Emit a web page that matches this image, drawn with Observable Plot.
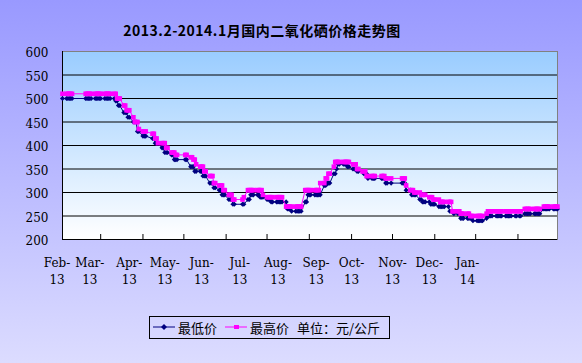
<!DOCTYPE html>
<html><head><meta charset="utf-8">
<script src="https://cdn.jsdelivr.net/npm/d3@7"></script>
<script src="https://cdn.jsdelivr.net/npm/@observablehq/plot@0.6"></script>
<style>
html,body{margin:0;padding:0;}
#chart{position:relative;width:582px;height:363px;overflow:hidden;background:linear-gradient(to bottom,#9999FF 0%,#DCDCFF 100%);}
#title{position:absolute;top:22px;left:262px;transform:translateX(-50%);white-space:nowrap;font:bold 14px "Noto Sans CJK SC";letter-spacing:0.5px;color:#000;line-height:16px;}
#plot{position:absolute;left:0;top:0;}
#legend{position:absolute;left:149px;top:316px;width:241px;height:23px;border:1px solid #000;box-sizing:border-box;font:13px "Noto Sans CJK SC";color:#000;}
#legend .it{position:absolute;top:0;height:21px;line-height:21px;white-space:nowrap;}
#legend svg{position:absolute;top:5px;}
</style></head><body>
<div id="chart"><div id="title"></div><div id="plot"></div><div id="legend"></div></div>
<script>
const titleText = "2013.2-2014.1月国内二氧化硒价格走势图";
const seriesNames = ["最低价", "最高价"];
const unitText = "单位：元/公斤";
const firstDay = "2013-02-01";
const lastDay = "2014-01-30";
const holidays = ["2013-02-11","2013-02-12","2013-02-13","2013-02-14","2013-02-15","2013-04-04","2013-04-05","2013-04-29","2013-04-30","2013-05-01","2013-06-10","2013-06-11","2013-06-12","2013-09-19","2013-09-20","2013-10-01","2013-10-02","2013-10-03","2013-10-04","2013-10-07","2014-01-01"];

const lowChangeDates = ["2013-02-01","2013-03-12","2013-03-14","2013-03-18","2013-03-21","2013-03-25","2013-03-28","2013-04-01","2013-04-08","2013-04-10","2013-04-15","2013-04-17","2013-04-22","2013-04-24","2013-05-06","2013-05-09","2013-05-15","2013-05-20","2013-05-23","2013-05-27","2013-05-29","2013-06-03","2013-06-06","2013-06-17","2013-06-19","2013-06-26","2013-07-01","2013-07-04","2013-07-16","2013-07-19","2013-07-29","2013-07-31","2013-08-12","2013-08-14","2013-08-19","2013-08-21","2013-08-22","2013-08-29","2013-09-02","2013-09-05","2013-09-10","2013-09-13","2013-09-26","2013-10-11","2013-10-15","2013-10-21","2013-10-23","2013-10-29","2013-11-04","2013-11-12","2013-11-15","2013-11-20","2013-11-29","2013-12-09","2013-12-10","2014-01-06","2014-01-20"];
const lowChangeValues = [500,495,485,470,460,450,430,420,415,405,395,385,380,370,355,345,335,320,310,305,295,285,275,285,295,290,285,280,265,260,280,295,315,320,340,350,360,355,350,345,340,330,320,305,295,285,280,275,270,260,255,245,240,245,250,255,265];

const highChangeDates = ["2013-02-01","2013-03-13","2013-03-18","2013-03-20","2013-03-25","2013-03-26","2013-03-29","2013-04-01","2013-04-08","2013-04-10","2013-04-12","2013-04-18","2013-04-22","2013-04-25","2013-05-06","2013-05-08","2013-05-10","2013-05-13","2013-05-16","2013-05-20","2013-05-23","2013-05-27","2013-05-30","2013-06-03","2013-06-06","2013-06-14","2013-06-17","2013-06-28","2013-07-01","2013-07-15","2013-07-29","2013-08-09","2013-08-13","2013-08-15","2013-08-19","2013-08-20","2013-09-02","2013-09-05","2013-09-09","2013-09-12","2013-09-26","2013-10-11","2013-10-14","2013-10-17","2013-10-22","2013-10-28","2013-10-31","2013-11-05","2013-11-14","2013-11-20","2013-11-27","2013-12-09","2013-12-10","2014-01-06","2014-01-20"];
const highChangeValues = [510,500,485,475,460,450,435,430,425,415,405,395,385,380,375,370,360,355,345,335,320,315,305,295,285,290,305,295,290,270,305,320,330,340,355,365,360,350,345,335,330,315,305,300,295,290,285,280,260,255,250,255,260,265,270];

const yTicks = [200,250,300,350,400,450,500,550,600];
const gridValues = [250,300,350,400,450,500,550];
const xTickLabels = ["Feb-\n13","Mar-\n13","Apr-\n13","May-\n13","Jun-\n13","Jul-\n13","Aug-\n13","Sep-\n13","Oct-\n13","Nov-\n13","Dec-\n13","Jan-\n14"];
const xLabelDates = ["2013-01-28","2013-02-21","2013-03-22","2013-04-17","2013-05-14","2013-06-11","2013-07-09","2013-08-06","2013-09-01","2013-10-01","2013-10-28","2013-11-25"];

const navy = "#000080", magenta = "#FF00FF";
const parse = d3.utcParse("%Y-%m-%d");
const fmt = d3.utcFormat("%Y-%m-%d");
const holidaySet = new Set(holidays);
const start = parse(firstDay), end = parse(lastDay);
const tradingDays = d3.utcDays(start, d3.utcDay.offset(end, 1))
  .filter(d => d.getUTCDay() % 6 !== 0 && !holidaySet.has(fmt(d)));
function stepSeries(dates, values) {
  const ch = dates.map(parse);
  return tradingDays.map(d => ({date: d, value: values[d3.bisectRight(ch, d) - 1]}));
}
const lowRows = stepSeries(lowChangeDates, lowChangeValues);
const highRows = stepSeries(highChangeDates, highChangeValues);
const monthStarts = d3.utcMonth.range(d3.utcMonth.ceil(d3.utcDay.offset(start, 1)), end);
const labelRows = xLabelDates.map((d, i) => ({date: parse(d), label: xTickLabels[i]}));

const plot = Plot.plot({
  width: 582, height: 363,
  marginTop: 51, marginRight: 25, marginBottom: 124, marginLeft: 62,
  style: {background: "transparent", fontFamily: "'DejaVu Serif', serif", fontSize: "12px", color: "#000", overflow: "visible"},
  x: {type: "utc", domain: [start, end]},
  y: {domain: [200, 600]},
  marks: [
    Plot.gridY(gridValues, {stroke: "#000", strokeOpacity: 1}),
    Plot.frame({stroke: "#808080"}),
    Plot.ruleY([200], {stroke: "#000"}),
    Plot.ruleX([start], {stroke: "#000"}),
    Plot.axisY({ticks: yTicks, tickSize: 0, tickPadding: 14, dy: 2, fill: "#000", label: null}),
    Plot.axisX({ticks: monthStarts, tickSize: -5, tickFormat: () => "", stroke: "#000", label: null}),
    Plot.text(labelRows, {x: "date", text: "label", frameAnchor: "bottom", dy: 31, lineAnchor: "middle", lineHeight: 1.4, fill: "#000"}),
    Plot.line(lowRows, {x: "date", y: "value", stroke: navy, strokeWidth: 1}),
    Plot.dot(lowRows, {x: "date", y: "value", symbol: "diamond2", r: 2.3, fill: navy, stroke: "none"}),
    Plot.line(highRows, {x: "date", y: "value", stroke: magenta, strokeWidth: 1}),
    Plot.dot(highRows, {x: "date", y: "value", symbol: "square", r: 2.6, fill: magenta, stroke: "none"})
  ]
});

// plot-area gradient background
const xr = plot.scale("x").range, yr = plot.scale("y").range;
const ns = "http://www.w3.org/2000/svg";
const defs = document.createElementNS(ns, "defs");
defs.innerHTML = '<linearGradient id="pgrad" x1="0" y1="0" x2="0" y2="1"><stop offset="0" stop-color="#99CCFF"/><stop offset="1" stop-color="#FFFFFF"/></linearGradient>';
const bg = document.createElementNS(ns, "rect");
bg.setAttribute("x", Math.min(...xr)); bg.setAttribute("y", Math.min(...yr));
bg.setAttribute("width", Math.abs(xr[1] - xr[0])); bg.setAttribute("height", Math.abs(yr[1] - yr[0]));
bg.setAttribute("fill", "url(#pgrad)");
plot.insertBefore(bg, plot.firstChild);
plot.insertBefore(defs, plot.firstChild);
document.getElementById("plot").appendChild(plot);

document.getElementById("title").textContent = titleText;
const lg = document.getElementById("legend");
lg.innerHTML =
  `<svg width="22" height="10" style="left:3px"><line x1="0" y1="5" x2="22" y2="5" stroke="${navy}"/><path d="M11,2L14,5L11,8L8,5Z" fill="${navy}"/></svg>` +
  `<span class="it" style="left:28px">${seriesNames[0]}</span>` +
  `<svg width="22" height="10" style="left:75px"><line x1="0" y1="5" x2="22" y2="5" stroke="${magenta}"/><rect x="9" y="3" width="5" height="4" fill="${magenta}"/></svg>` +
  `<span class="it" style="left:100px">${seriesNames[1]}</span>` +
  `<span class="it" style="left:147px">${unitText}</span>`;
</script>
</body></html>
